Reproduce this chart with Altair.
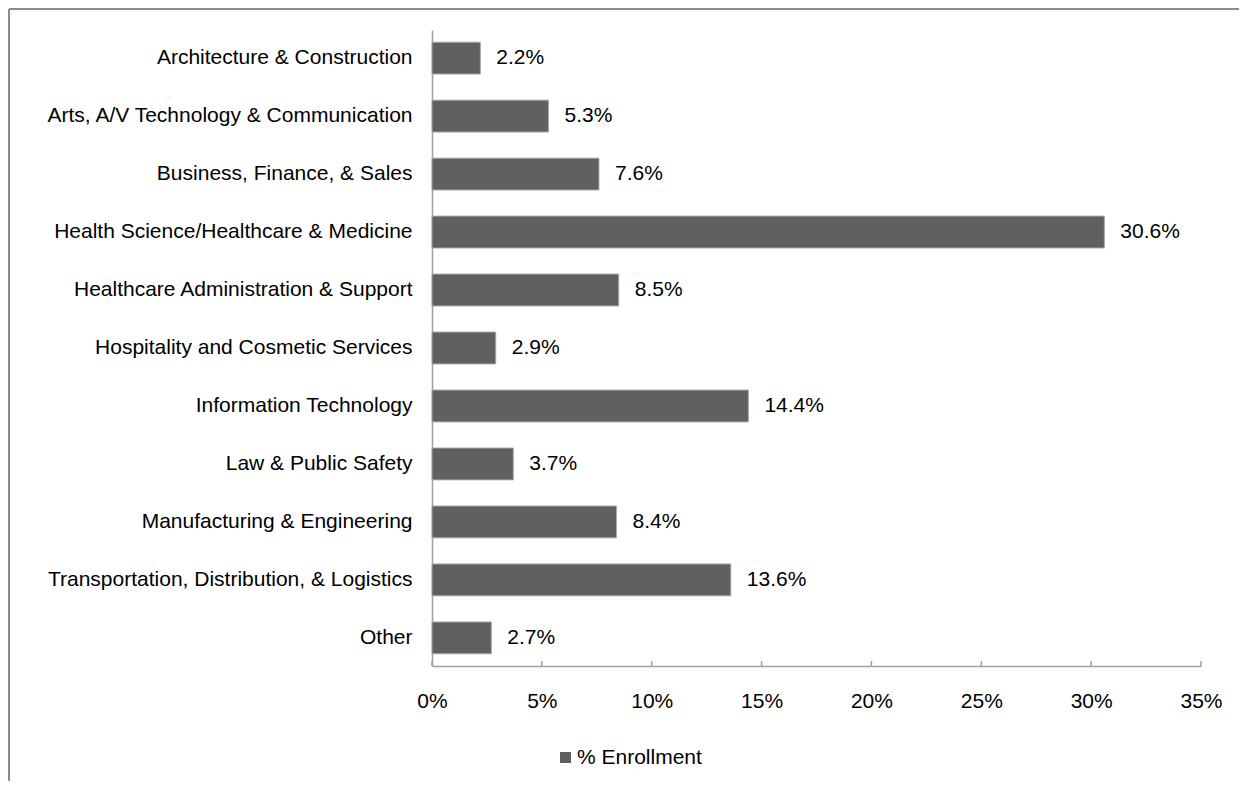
import altair as alt
import pandas as pd

categories = [
    "Architecture & Construction\u00a0",
    "Arts, A/V Technology & Communication\u00a0",
    "Business, Finance, & Sales",
    "Health Science/Healthcare & Medicine",
    "Healthcare Administration & Support",
    "Hospitality and Cosmetic Services",
    "Information Technology\u00a0",
    "Law & Public Safety",
    "Manufacturing & Engineering",
    "Transportation, Distribution, & Logistics\u00a0",
    "Other",
]
values = [0.022, 0.053, 0.076, 0.306, 0.085, 0.029, 0.144, 0.037, 0.084, 0.136, 0.027]
series_name = "% Enrollment"
tick_values = [0, 0.05, 0.10, 0.15, 0.20, 0.25, 0.30, 0.35]

W, H = 769, 636
FONT = "Liberation Sans"
FS = 21
BAR = "#606060"
AXIS = "#a0a0a0"

df = pd.DataFrame({"category": categories, "value": values, "series": series_name})
ticks_df = pd.DataFrame({"t": tick_values})
one = pd.DataFrame({"k": [0]})

xscale = alt.Scale(domain=[0, 0.35], nice=False)
yscale = alt.Scale(paddingInner=0.45, paddingOuter=0.21)

bars = alt.Chart(df).mark_bar(stroke="#a8a8a8", strokeWidth=1).encode(
    y=alt.Y("category:N", sort=categories, scale=yscale,
            axis=alt.Axis(title=None, ticks=False, domainColor=AXIS, domainWidth=1.5,
                          labelFont=FONT, labelFontSize=FS, labelColor="#000000",
                          labelPadding=20, labelLimit=440)),
    x=alt.X("value:Q", scale=xscale,
            axis=alt.Axis(title=None, values=tick_values, format=".0%", ticks=False,
                          grid=False, domainColor=AXIS, domainWidth=1.5,
                          labelFlush=False,
                          labelFont=FONT, labelFontSize=FS, labelColor="#000000",
                          labelPadding=24)),
    color=alt.Color("series:N", scale=alt.Scale(range=[BAR]),
                    legend=alt.Legend(title=None, orient="none", legendX=123, legendY=717,
                                      symbolType="square", symbolSize=121,
                                      symbolStrokeWidth=0, symbolOpacity=1,
                                      labelFont=FONT, labelFontSize=FS,
                                      labelColor="#000000", labelOffset=1, padding=0)),
)

labels = alt.Chart(df).mark_text(align="left", baseline="middle", dx=16,
                                 font=FONT, fontSize=FS, color="#000000").encode(
    y=alt.Y("category:N", sort=categories, scale=yscale),
    x=alt.X("value:Q", scale=xscale),
    text=alt.Text("value:Q", format=".1%"),
)

ticks = alt.Chart(ticks_df).mark_rule(color=AXIS, strokeWidth=1.5).encode(
    x=alt.X("t:Q", scale=xscale),
    y=alt.value(H - 5),
    y2=alt.value(H),
)

frame_left = alt.Chart(one).mark_rule(color="#8c8c8c", strokeWidth=2).encode(
    x=alt.value(-423), y=alt.value(-21), y2=alt.value(760)
)
frame_top = alt.Chart(one).mark_rule(color="#8c8c8c", strokeWidth=2).encode(
    x=alt.value(-423), x2=alt.value(820), y=alt.value(-21)
)

chart = alt.layer(frame_left, frame_top, bars, labels, ticks).properties(
    width=W, height=H,
    autosize=alt.AutoSizeParams(type="none"),
    padding={"left": 424, "top": 22, "right": 38, "bottom": 115},
).configure_view(stroke=None)

chart.save("out.html", embed_options={"renderer": "svg", "actions": False})
